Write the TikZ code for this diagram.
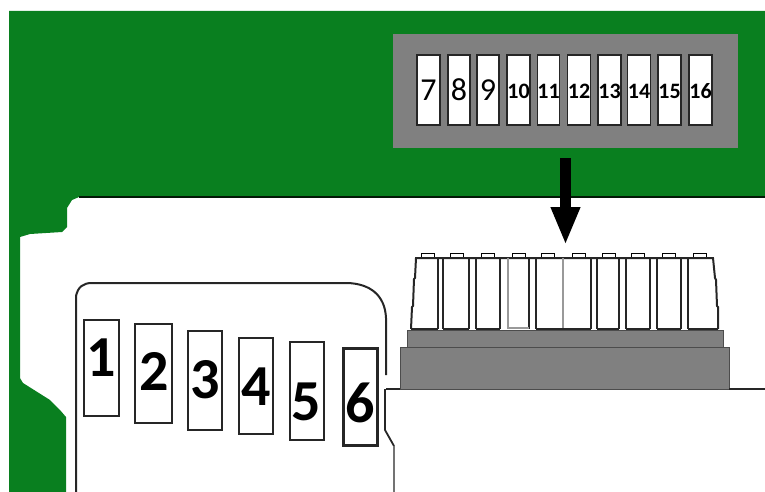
\documentclass[tikz,border=0pt]{standalone}
\usepackage{fontspec}
\setmainfont{Carlito}
\usepackage{tikz}
\usetikzlibrary{arrows.meta, positioning}

\definecolor{boardgreen}{RGB}{9,127,31}
\definecolor{panelgray}{RGB}{128,128,128}

\begin{document}
\begin{tikzpicture}[x=1pt,y=-1pt,semithick]
	
	\tikzstyle{every node}=[inner sep=0pt,outer sep=0pt]
	
	\tikzstyle{top slot}=[rectangle,draw=black!85,line width=1.2pt,fill=white,minimum height=70pt]
	\tikzstyle{thin num}=[font=\fontsize{32}{32}\selectfont,text height=22pt,text depth=0pt]
	\tikzstyle{bold num}=[font=\fontsize{22}{22}\selectfont\bfseries,text height=18pt,text depth=0pt]
	\tikzstyle{card slot}=[rectangle,draw=black!85,line width=1.7pt,fill=white]
	\tikzstyle{card num}=[font=\fontsize{58}{58}\selectfont\bfseries]
	\tikzstyle{tab}=[draw=black,line width=1pt,fill=white]
	\tikzstyle{pin line}=[draw=black!85,line width=2pt]
	\tikzstyle{pin line light}=[draw=black!40,line width=1.4pt]
	\tikzstyle{step base}=[rectangle,draw=black!70,line width=.8pt,fill=panelgray]
	
	\useasboundingbox (0,0) rectangle (765,492);
	
	% board
	\fill[boardgreen] (9,11) -- (765,11) -- (765,197) -- (79,197) -- (72,200) -- (67,208) -- (67,227)
		-- (62,232) -- (30,234) -- (20,237) -- (20,378) -- (23,383) -- (50,400) -- (60,410) -- (66,417)
		-- (66,492) -- (9,492) -- cycle;
	\draw[black!80!boardgreen,line width=1.5pt] (79,197) -- (765,197);
	
	% top view
	\node[rectangle,fill=panelgray,minimum width=345pt,minimum height=114pt] (panel) at (565.5,91) {};
	\node[top slot,minimum width=23pt,thin num] (S7) at (428.5,90) {7};
	\node[top slot,minimum width=22pt,thin num] (S8) at (459,90) {8};
	\node[top slot,minimum width=22pt,thin num] (S9) at (488,90) {9};
	\node[top slot,minimum width=23pt,bold num] (S10) at (518.5,90) {10};
	\node[top slot,minimum width=21pt,bold num] (S11) at (548.5,90) {11};
	\node[top slot,minimum width=22pt,bold num] (S12) at (579,90) {12};
	\node[top slot,minimum width=23pt,bold num] (S13) at (609.5,90) {13};
	\node[top slot,minimum width=22pt,bold num] (S14) at (639,90) {14};
	\node[top slot,minimum width=23pt,bold num] (S15) at (669.5,90) {15};
	\node[top slot,minimum width=23pt,bold num] (S16) at (700.5,90) {16};
	
	% connector from the side
	\coordinate (tip) at (565.5,245);
	\draw[-{Triangle[length=38pt,width=27pt]},line width=11pt,shorten <=10pt] (panel.south) -- (tip);
	
	\node[tab,rectangle,minimum width=13pt,minimum height=5pt] (T1) at (428,255.5) {};
	\node[tab,rectangle,minimum width=13pt,minimum height=5pt] (T2) at (457,255.5) {};
	\node[tab,rectangle,minimum width=13pt,minimum height=5pt] (T3) at (488,255.5) {};
	\node[tab,rectangle,minimum width=13pt,minimum height=5pt] (T4) at (519,255.5) {};
	\node[tab,rectangle,minimum width=13pt,minimum height=5pt] (T5) at (548,255.5) {};
	\node[tab,rectangle,minimum width=13pt,minimum height=5pt] (T6) at (579,255.5) {};
	\node[tab,rectangle,minimum width=13pt,minimum height=5pt] (T7) at (609,255.5) {};
	\node[tab,rectangle,minimum width=13pt,minimum height=5pt] (T8) at (638,255.5) {};
	\node[tab,rectangle,minimum width=13pt,minimum height=5pt] (T9) at (669,255.5) {};
	\node[tab,rectangle,minimum width=13pt,minimum height=5pt] (T10) at (700,255.5) {};
	
	\draw[pin line,fill=white] (411,329) -- (412,307) -- (413,306) -- (414,279) -- (415,278) -- (416,258)
		-- (713,258) -- (715,278) -- (716,280) -- (717,306) -- (718,307) -- (718,329);
	\draw[pin line] (438,258) -- (438,329) (443,258) -- (443,329);
	\draw[pin line] (469,258) -- (469,329) (476,258) -- (476,329);
	\draw[pin line] (500,258) -- (500,329) (529,258) -- (529,329) (536,258) -- (536,329);
	\draw[pin line light] (508,258) -- (508,328) -- (529,328);
	\draw[pin line light] (563,258) -- (563,329);
	\draw[pin line] (591,258) -- (591,329) (597,258) -- (597,329);
	\draw[pin line] (619,258) -- (619,329) (626,258) -- (626,329);
	\draw[pin line] (650,258) -- (650,329) (657,258) -- (657,329);
	\draw[pin line] (681,258) -- (681,329) (688,258) -- (688,329);
	\draw[pin line] (411,329) -- (438,329) (443,329) -- (469,329) (476,329) -- (500,329) (536,329) -- (591,329)
		(597,329) -- (619,329) (626,329) -- (650,329) (657,329) -- (681,329) (688,329) -- (718,329);
	
	\node[step base,minimum width=316pt,minimum height=17pt] (base1) at (565,339) {};
	\node[step base,minimum width=329pt,minimum height=42pt] (base2) at (564.5,368) {};
	
	% card
	\draw[black!85,line width=1.5pt] (386,389) -- (400,389) (729,389) -- (765,389);
	\draw[black!85,line width=2pt] (76,492) -- (76,296) .. controls (78,287) and (83,283) .. (92,283)
		-- (348,283) .. controls (370,284) and (385,295) .. (386,318) -- (386,375);
	\draw[black!85,line width=1.8pt] (385,389) -- (385,430) -- (394,446);
	\draw[black!55,line width=2pt] (394,446) -- (394,492);
	
	\node[card slot,minimum width=35pt,minimum height=96pt] (S1) at (101.5,368) {};
	\node[card slot,minimum width=37pt,minimum height=99pt] (S2) at (153.5,373.5) {};
	\node[card slot,minimum width=34pt,minimum height=99pt] (S3) at (205,380.5) {};
	\node[card slot,minimum width=34pt,minimum height=96pt] (S4) at (256,386) {};
	\node[card slot,minimum width=34pt,minimum height=98pt] (S5) at (307,391) {};
	\node[card slot,line width=3pt,minimum width=34pt,minimum height=97pt] (S6) at (360,396.5) {};
	
	\node[card num] (N1) at (101.5,358) {1};
	\node[card num] (N2) at (154,371.5) {2};
	\node[card num] (N3) at (205,380) {3};
	\node[card num] (N4) at (256,386.5) {4};
	\node[card num] (N5) at (306.5,402) {5};
	\node[card num] (N6) at (360,402.5) {6};
	
\end{tikzpicture}
\end{document}
